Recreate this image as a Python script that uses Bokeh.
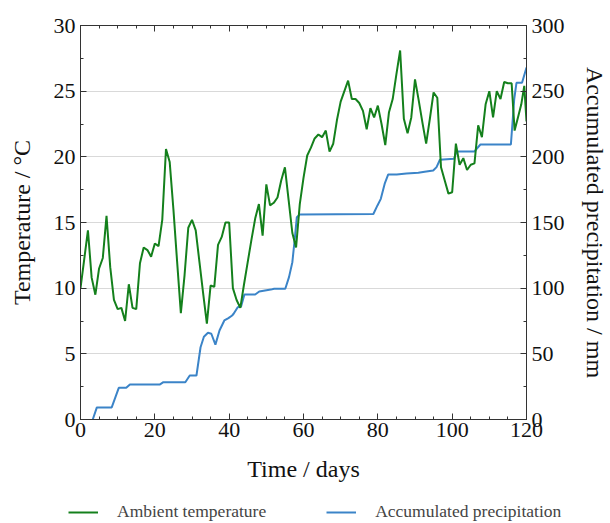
from bokeh.plotting import figure
from bokeh.layouts import column, row
from bokeh.models import (Range1d, LinearAxis, SingleIntervalTicker, Legend, LegendItem,
                          CustomJSTickFormatter, ColumnDataSource, Grid)
from bokeh.embed import file_html
from bokeh.resources import INLINE

# ---- data ----
temp_days = [0, 1, 2, 3, 4, 5, 6, 7, 8, 9, 10, 11, 12, 13, 14, 15, 16, 17, 18, 19, 20,
             21, 22, 23, 24, 25, 26, 27, 28, 29, 30, 31, 32, 33, 34, 35, 36, 37, 38, 39, 40,
             41, 42, 43, 44, 45, 46, 47, 48, 49, 50, 51, 52, 53, 54, 55, 56, 57, 58, 59, 60,
             61, 62, 63, 64, 65, 66, 67, 68, 69, 70, 71, 72, 73, 74, 75, 76, 77, 78, 79, 80,
             81, 82, 83, 84, 85, 86, 87, 88, 89, 90, 91, 92, 93, 94, 95, 96, 97, 98, 99, 100,
             101, 102, 103, 104, 105, 106, 107, 108, 109, 110, 111, 112, 113, 114, 115, 116,
             116.8, 117.7, 118.6, 119.4, 120]
temperature = [10.0, 12.2, 14.4, 10.8, 9.5, 11.5, 12.3, 15.5, 11.6, 9.1, 8.4, 8.5, 7.5, 10.3,
               8.5, 8.4, 11.9, 13.1, 12.9, 12.4, 13.4,
               13.2, 15.2, 20.6, 19.6, 16.0, 12.0, 8.1, 11.0, 14.6, 15.2, 14.4, 12.0, 9.6, 7.3,
               10.2, 10.1, 13.3, 13.9, 15.0, 15.0,
               10.0, 9.1, 8.5, 10.3, 12.0, 13.7, 15.3, 16.4, 14.0, 17.9, 16.3, 16.5, 16.9, 18.2,
               19.2, 16.7, 14.2, 13.1, 16.4, 18.4,
               20.1, 20.7, 21.4, 21.7, 21.5, 22.0, 20.4, 21.0, 22.8, 24.2, 25.0, 25.8, 24.4, 24.4,
               24.1, 23.5, 22.1, 23.7, 23.0, 23.9,
               22.5, 20.9, 23.4, 24.4, 26.3, 28.1, 22.9, 21.8, 23.0, 25.9, 24.3, 22.6, 21.0, 22.9,
               24.9, 24.5, 19.2, 18.2, 17.2, 17.3,
               21.0, 19.4, 19.9, 19.0, 19.4, 19.5, 22.4, 21.5, 24.0, 25.0, 23.0, 25.0, 24.4, 25.7,
               25.6, 25.6,
               22.0, 23.0, 24.0, 25.4, 22.7]

precip_days = [3.3, 4.4, 8.4, 10.3, 12.3, 13.3, 21.4, 22.3, 28.2, 29.4, 31.2, 32.3, 33.2, 34.3,
               35.2, 36.3, 37.4, 38.7, 39.8, 40.8, 41.2, 42.3, 43.2, 44.1, 47.0, 48.1, 51.2, 52.1,
               55.1, 56.1, 57.0, 57.7, 58.2, 59.0, 78.8, 79.9, 80.8, 81.9, 82.8, 85.1, 87.7, 90.9,
               92.6, 94.9, 95.8, 96.7, 100.5, 101.2, 106.0, 107.6, 115.8, 116.7, 117.3, 118.8, 120.0]
precipitation = [0, 9.2, 9.2, 24.1, 24.1, 26.7, 26.7, 28.4, 28.4, 33.5, 33.5, 55.0, 63.0, 66.0,
                 65.3, 57.0, 67.8, 75.4, 77.2, 79.2, 80.5, 85.5, 86.0, 95.2, 95.2, 97.5, 98.9, 99.6,
                 99.6, 108.4, 119.8, 138.8, 154.0, 156.0, 156.5, 163.0, 168.0, 180.0, 186.6, 186.6,
                 187.3, 187.8, 188.6, 189.6, 192.2, 197.8, 198.5, 204.1, 204.1, 209.4, 209.4, 244.0,
                 256.4, 256.4, 268.0]

x_ticks_interval = 20
temp_tick_interval = 5
precip_tick_interval = 50
series_names = ["Ambient temperature", "Accumulated precipitation"]

FONT = "Liberation Serif"
GREEN = "#14801c"
BLUE = "#3b84c8"
AX = "#333333"

p = figure(width=610, height=488, output_backend="svg", toolbar_location=None,
           x_range=Range1d(0, 120), y_range=Range1d(0, 30),
           min_border_left=80, min_border_right=80, min_border_top=25, min_border_bottom=69,
           x_axis_location=None, y_axis_location=None)
p.extra_y_ranges = {"precip": Range1d(0, 300)}

p.outline_line_color = AX
p.outline_line_width = 1
p.xgrid.visible = False
p.ygrid.visible = False

def style(ax):
    ax.axis_line_color = AX
    ax.major_tick_line_color = AX
    ax.minor_tick_line_color = AX
    ax.major_tick_in = 6
    ax.major_tick_out = 0
    ax.minor_tick_in = 3
    ax.minor_tick_out = 0
    ax.major_label_text_font = FONT
    ax.major_label_text_font_size = "22px"
    ax.major_label_text_color = "#111111"
    ax.axis_label_text_font = FONT
    ax.axis_label_text_font_size = "24px"
    ax.axis_label_text_font_style = "normal"
    ax.axis_label_text_color = "#111111"

xt = SingleIntervalTicker(interval=x_ticks_interval, num_minor_ticks=4)
yt = SingleIntervalTicker(interval=temp_tick_interval, num_minor_ticks=2)
pt = SingleIntervalTicker(interval=precip_tick_interval, num_minor_ticks=2)

xb = LinearAxis(ticker=xt, axis_label="Time / days")
style(xb)
xb.major_label_standoff = 3
xb.axis_label_standoff = 16
p.add_layout(xb, "below")

xtop = LinearAxis(ticker=xt, formatter=CustomJSTickFormatter(code="return ''"))
style(xtop)
p.add_layout(xtop, "above")

yl = LinearAxis(ticker=yt, axis_label="Temperature / °C")
style(yl)
yl.major_label_standoff = 5
yl.axis_label_standoff = 16
p.add_layout(yl, "left")

yr = LinearAxis(ticker=pt, y_range_name="precip", axis_label="Accumulated precipitation / mm")
style(yr)
yr.major_label_standoff = 5
yr.axis_label_standoff = 14
p.add_layout(yr, "right")

p.add_layout(Grid(dimension=1, ticker=yt, grid_line_color="#d9d9d9", grid_line_width=1))

src_t = ColumnDataSource(dict(x=temp_days, y=temperature))
src_p = ColumnDataSource(dict(x=precip_days, y=precipitation))
r_p = p.line("x", "y", source=src_p, y_range_name="precip", line_color=BLUE, line_width=2)
r_t = p.line("x", "y", source=src_t, line_color=GREEN, line_width=2)

# legend strip below the chart (its own small figure)
lg = figure(width=610, height=35, output_backend="svg", toolbar_location=None,
            x_range=Range1d(0, 1), y_range=Range1d(0, 1),
            min_border_left=0, min_border_right=0, min_border_top=0, min_border_bottom=0,
            x_axis_location=None, y_axis_location=None)
lg.outline_line_color = None
lg.xgrid.visible = False
lg.ygrid.visible = False
lt = lg.line(x=[0], y=[0], line_color=GREEN, line_width=2)
lp = lg.line(x=[0], y=[0], line_color=BLUE, line_width=2)
legend = Legend(items=[LegendItem(label=series_names[0], renderers=[lt]),
                       LegendItem(label=series_names[1], renderers=[lp])],
                orientation="horizontal", location=(68, 1),
                label_text_font=FONT, label_text_font_size="17.5px",
                label_standoff=19, glyph_width=30, glyph_height=20, spacing=60,
                padding=0, margin=0, border_line_color=None, background_fill_alpha=0)
lg.add_layout(legend)

layout = column(p, row(lg), spacing=0)
open("out.html", "w").write(file_html(layout, INLINE))
